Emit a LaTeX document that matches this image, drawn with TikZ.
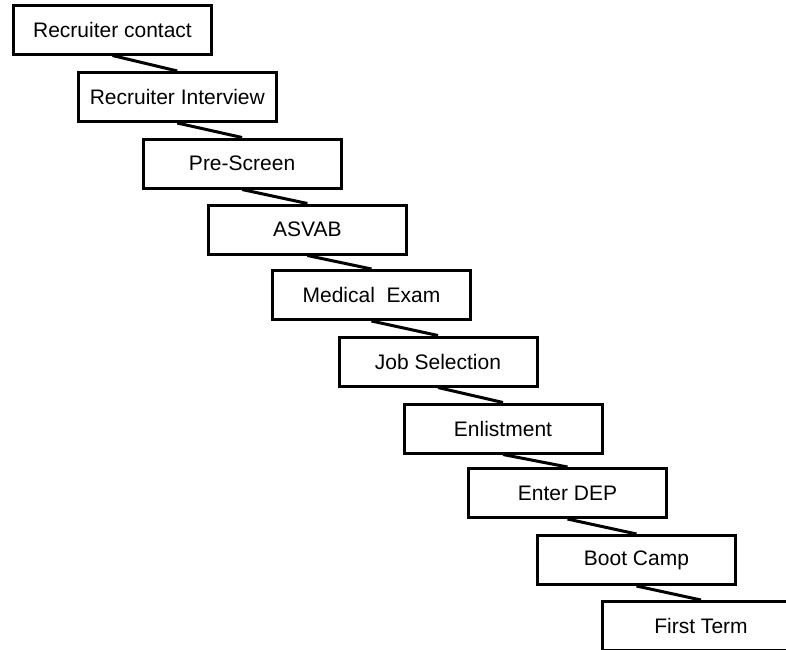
\documentclass[tikz,border=0pt]{standalone}
\usepackage{fontspec}
\setmainfont{Liberation Sans}
\begin{document}
\begin{tikzpicture}[x=1pt,y=-1pt,
  stepbox/.style={draw=black,line width=3pt,fill=white,minimum width=198pt,minimum height=49pt,inner sep=0pt,font=\fontsize{21}{24}\selectfont},
  link/.style={draw=black,line width=3pt}]
\useasboundingbox (0,0) rectangle (786,649);
\clip (0,0) rectangle (786,649);
\fill[white] (0,0) rectangle (786,649);
\node[stepbox] (b1) at (112.5,29.5) {Recruiter contact};
\node[stepbox] (b2) at (177.3,97) {Recruiter Interview};
\node[stepbox] (b3) at (242.1,163.5) {Pre-Screen};
\node[stepbox] (b4) at (307.4,229.5) {ASVAB};
\node[stepbox] (b5) at (371.5,295) {Medical\ \ Exam};
\node[stepbox] (b6) at (438,361.5) {Job Selection};
\node[stepbox] (b7) at (503,428.5) {Enlistment};
\node[stepbox] (b8) at (567.5,493) {Enter DEP};
\node[stepbox] (b9) at (636.5,560) {Boot Camp};
\node[stepbox] (b10) at (701,626) {First Term};
\foreach \a/\b in {b1/b2,b2/b3,b3/b4,b4/b5,b5/b6,b6/b7,b7/b8,b8/b9,b9/b10}
  \draw[link] (\a.south) -- (\b.north);
\end{tikzpicture}
\end{document}
